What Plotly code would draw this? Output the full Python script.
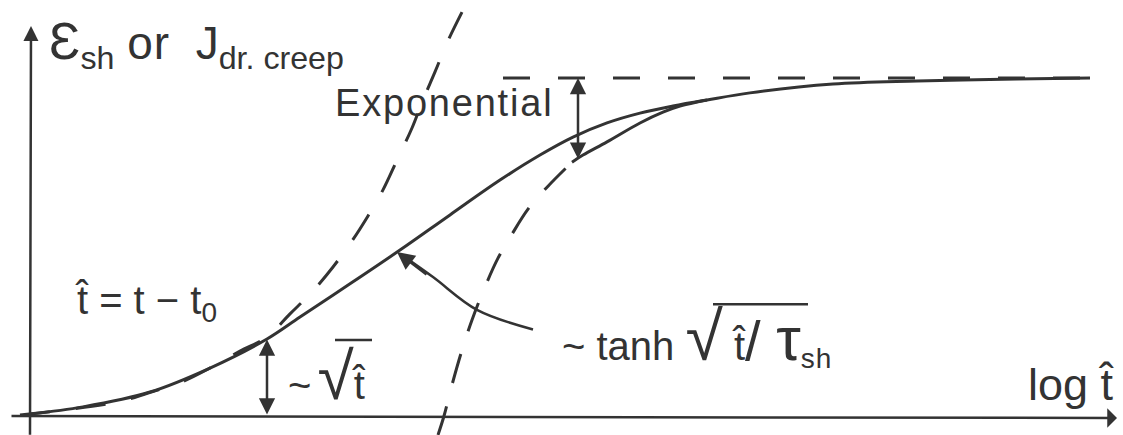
import plotly.graph_objects as go

# schematic: x = log t_hat, y = normalised strain (final value = 1)
tanh_x = [0, 0.53, 1.20, 1.80, 2.37, 2.70, 3.20, 3.70, 4.20, 4.70, 5.10, 5.43,
          5.77, 6.10, 6.43, 6.77, 7.20, 8.03, 8.87, 9.87, 10.60]
tanh_y = [0.006, 0.027, 0.071, 0.142, 0.228, 0.293, 0.391, 0.491, 0.595, 0.698,
          0.772, 0.825, 0.867, 0.896, 0.917, 0.935, 0.956, 0.982, 0.991, 0.997, 1.0]

expo_x = [5.42, 5.53, 5.77, 6.10, 6.33, 6.50, 6.77]
expo_y = [0.751, 0.772, 0.811, 0.867, 0.899, 0.917, 0.935]

expo_start_x = [4.08, 4.14, 4.22, 4.32, 4.42, 4.55, 4.68, 4.82, 4.98, 5.18, 5.42]
expo_start_y = [-0.056, 0.0, 0.092, 0.195, 0.284, 0.382, 0.467, 0.538, 0.612, 0.680, 0.751]

sqrt_x = [-0.10, 0.87, 1.18, 1.52, 1.80, 2.10, 2.37, 2.60, 2.82, 3.03, 3.22, 3.38,
          3.53, 3.67, 3.82, 3.93, 4.05, 4.17, 4.32]
sqrt_y = [0.003, 0.041, 0.068, 0.101, 0.142, 0.192, 0.234, 0.302, 0.367, 0.441,
          0.518, 0.592, 0.669, 0.757, 0.852, 0.935, 1.018, 1.104, 1.195]

final_x = [4.73, 10.60]
final_y = [1.0, 1.0]

pointer_x = [5.03, 4.47, 4.03, 3.72]
pointer_y = [0.256, 0.314, 0.411, 0.476]

ink = "#333333"
font = "Liberation Sans, Arial, sans-serif"

fig = go.Figure()
fig.add_trace(go.Scatter(x=tanh_x, y=tanh_y, mode="lines",
                         line=dict(color=ink, width=3, shape="spline")))
fig.add_trace(go.Scatter(x=expo_x, y=expo_y, mode="lines",
                         line=dict(color=ink, width=3, shape="spline")))
fig.add_trace(go.Scatter(x=expo_start_x, y=expo_start_y, mode="lines",
                         line=dict(color=ink, width=3, shape="spline", dash="30px,24px")))
fig.add_trace(go.Scatter(x=sqrt_x, y=sqrt_y, mode="lines",
                         line=dict(color=ink, width=3, shape="spline", dash="30px,26px")))
fig.add_trace(go.Scatter(x=final_x, y=final_y, mode="lines",
                         line=dict(color=ink, width=3, dash="27px,28px")))
fig.add_trace(go.Scatter(x=pointer_x, y=pointer_y, mode="lines",
                         line=dict(color=ink, width=2.5, shape="spline")))


def arrow(x, y, ax, ay, side="end", head=2, size=1.3):
    fig.add_annotation(x=x, y=y, ax=ax, ay=ay, xref="x", yref="y", axref="x", ayref="y",
                       text="", showarrow=True, arrowhead=head, startarrowhead=head,
                       arrowside=side, arrowsize=size, startarrowsize=size,
                       arrowwidth=2.5, arrowcolor=ink)


# axes
arrow(0.01, 1.154, 0.0, -0.06, head=2, size=1.2)
arrow(10.87, -0.006, -0.20, 0.0, head=1, size=1.3)
# double arrows
arrow(2.37, 0.226, 2.37, 0.0, side="end+start")
arrow(5.48, 1.0, 5.48, 0.757, side="end+start")
# tanh pointer head
arrow(3.67, 0.485, 3.98, 0.415, size=1.4)


def label(x, y, text, size):
    fig.add_annotation(x=x, y=y, xref="x", yref="y", text=text, showarrow=False,
                       xanchor="left", yanchor="middle",
                       font=dict(family=font, size=size, color=ink))


label(0.17, 1.10, "<span style='font-size:52px'>Ɛ</span><sub>sh</sub> "
      "<span style='letter-spacing:1px'>or</span>  J<sub>dr. creep</sub>", 46)
label(3.03, 0.926, "<span style='letter-spacing:1.8px'>Exponential</span>", 38)
label(0.43, 0.334, "t̂ = t − t<sub>0</sub>", 40)
label(2.56, 0.118, "~<span style='font-size:22px'> </span>"
      "<span style='font-size:66px'>√</span>t̂", 40)
label(5.30, 0.236, "~ tanh <span style='font-size:68px'>√</span> t̂"
      "<span style='font-size:56px'>/ </span><span style='font-size:62px'>τ</span>"
      "<sub style='letter-spacing:1px'>sh</sub>", 40)
label(9.96, 0.094, "log t̂", 45)

# square-root bars
fig.add_shape(type="line", x0=3.05, x1=3.42, y0=0.225, y1=0.225, xref="x", yref="y",
              line=dict(color=ink, width=2.5))
fig.add_shape(type="line", x0=6.83, x1=7.78, y0=0.331, y1=0.331, xref="x", yref="y",
              line=dict(color=ink, width=2.5))

fig.update_xaxes(visible=False, range=[-0.30, 10.93])
fig.update_yaxes(visible=False, range=[-0.0562, 1.2308])
fig.update_layout(width=1123, height=435, margin=dict(l=0, r=0, t=0, b=0),
                  plot_bgcolor="white", paper_bgcolor="white", showlegend=False)

fig.write_html("out.html", config={"displayModeBar": False},
               post_script="document.body.style.margin='0';")
